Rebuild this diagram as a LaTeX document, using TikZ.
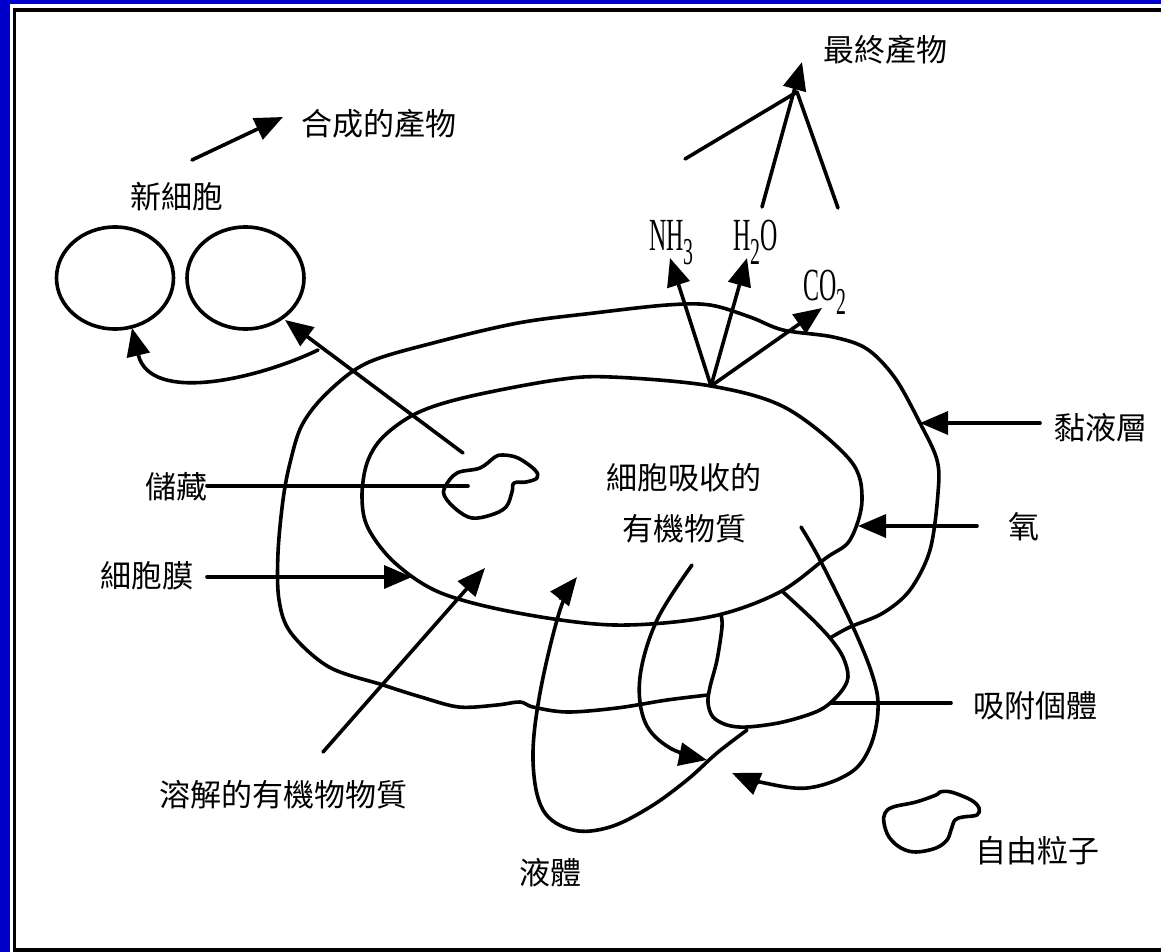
\documentclass[tikz,border=0pt]{standalone}
\usepackage{fontspec}
\setmainfont{Liberation Serif}
\newfontfamily\cjk{Noto Sans CJK TC}
\usetikzlibrary{arrows.meta}
\definecolor{framebl}{RGB}{0,0,204}
% condensed chemical formula with a lowered index
\newcommand\lowidx[1]{\raisebox{-14pt}{\fontsize{38}{38}\selectfont #1}}
\newcommand\chemtxt[1]{\scalebox{0.52}[1]{\fontsize{46}{46}\selectfont #1}}

\begin{document}
\begin{tikzpicture}[x=1pt,y=-1pt,
  line/.style={line width=3.6pt, line join=round, line cap=round},
  arr/.style={line, -{Triangle[length=28pt,width=23pt]}},
  lbl/.style={font=\cjk\fontsize{31}{36}\selectfont, inner sep=0pt},
  chem/.style={inner sep=0pt, anchor=base west}]
\useasboundingbox (0,0) rectangle (1161,952);
% frame
\fill[framebl] (0,0) rectangle (1161,952);
\fill[white] (10,4) rectangle (1161,952);
\begin{scope}
  \clip (0,0) rectangle (1161,952);
  \draw[line width=3.5pt] (14.5,10) rectangle (1175,950);
\end{scope}

% labels
\node[lbl] (synth)    at (379,124) {合成的產物};
\node[lbl] (newcell)  at (177,197) {新細胞};
\node[lbl] (final)    at (885,50)  {最終產物};
\node[lbl] (mucus)    at (1101,428) {黏液層};
\node[lbl] (oxy)      at (1024,527) {氧};
\node[lbl] (store)    at (176,487) {儲藏};
\node[lbl] (memb)     at (147,576) {細胞膜};
\node[lbl] (absorbA)  at (684,478) {細胞吸收的};
\node[lbl] (absorbB)  at (684,529) {有機物質};
\node[lbl] (dissolved) at (283,795) {溶解的有機物物質};
\node[lbl] (liquid)   at (550,873) {液體};
\node[lbl] (attached) at (1035,706) {吸附個體};
\node[lbl] (free)     at (1037,851) {自由粒子};
\node[chem] (nh3) at (649,250) {\chemtxt{NH\lowidx{3}}};
\node[chem] (h2o) at (733,250) {\chemtxt{H\lowidx{2}O}};
\node[chem] (co2) at (803,300) {\chemtxt{CO\lowidx{2}}};

% new cells
\draw[line] (115,278) ellipse [x radius=58.5, y radius=51];
\draw[line] (245.5,278) ellipse [x radius=58.5, y radius=51];

% cell membrane
\draw[line] plot[smooth cycle, tension=0.55] coordinates {
  (362,497) (367,463) (383,437) (417,413) (467,397) (556,380) (611,377)
  (711,386) (786,408) (850,460) (862,500) (850,540) (826,558) (778,593)
  (709,617) (614,625) (518,613) (441,593) (395,563) (368,528)};

% mucus layer
\draw[line] plot[smooth, tension=0.55] coordinates {
  (708,695) (667,700) (617,708) (567,712) (533,707) (520,702) (497,705)
  (459,707) (421,697) (383,685) (329,667) (291,633) (279,600) (278,553)
  (283,500) (290,463) (302,425) (327,393) (367,363) (433,343) (518,323)
  (594,313) (667,305) (710,305) (750,317) (783,330) (833,337) (867,349)
  (895,378) (920,423) (937,460) (938,493) (930,550) (910,590) (883,613)
  (850,627) (830,638)};

% attached particle
\draw[line] plot[smooth, tension=0.55] coordinates {
  (721,615) (722,627) (717,660) (710,687) (708,703) (713,717) (727,725)
  (747,727) (783,722) (820,710) (840,693) (848,677) (843,657) (830,638)
  (810,617) (783,592)};

% storage granule
\draw[line] plot[smooth cycle, tension=0.6] coordinates {
  (445,487) (457,473) (480,468) (495,457) (503,455) (518,458) (535,470)
  (537,478) (526,482) (514,483) (512,492) (506,507) (491,515) (472,518)
  (457,510) (445,497)};

% free particle
\draw[line] plot[smooth cycle, tension=0.6] coordinates {
  (885,813) (893,807) (916,802) (936,795) (940,792) (951,792) (971,800)
  (979,808) (977,815) (963,817) (955,820) (951,830) (947,840) (936,848)
  (916,852) (901,848) (889,837) (884,823)};

% end points of the connectors
\coordinate (synthA) at (192,160);
\coordinate (synthB) at (283,117);
\coordinate (apex)   at (711,386);
\coordinate (nhTip)  at (670,258);
\coordinate (hoTip)  at (747,258);
\coordinate (coTip)  at (822,308);
\coordinate (fpL)    at (685,159);
\coordinate (fpM)    at (762,207);
\coordinate (fpR)    at (838,208);
\coordinate (fpJ)    at (797,92);
\coordinate (fpTip)  at (802,62);
\coordinate (grA)    at (463,453);
\coordinate (grB)    at (285,320);
\coordinate (budA)   at (318,350);
\coordinate (budB)   at (132,328);
\coordinate (storeA) at (207,486);
\coordinate (storeB) at (468,486);
\coordinate (membA)  at (207,577);
\coordinate (membB)  at (412,577);
\coordinate (dissA)  at (323,752);
\coordinate (dissB)  at (485,568);
\coordinate (mucA)   at (1040,423);
\coordinate (mucB)   at (920,423);
\coordinate (oxyA)   at (977,526);
\coordinate (oxyB)   at (858,526);
\coordinate (attA)   at (831,703);
\coordinate (attB)   at (951,703);

% connectors
\draw[arr] (synthA) -- (synthB);
\draw[arr] (apex) -- (nhTip);
\draw[arr] (apex) -- (hoTip);
\draw[arr] (apex) -- (coTip);
\draw[line] (fpL) -- (fpJ);
\draw[line] (fpR) -- (fpJ);
\draw[arr] (fpM) -- (fpTip);
\draw[arr] (grA) -- (grB);
\draw[arr] (budA) .. controls (260,378) and (150,405) .. (budB);
\draw[line] (storeA) -- (storeB);
\draw[arr] (membA) -- (membB);
\draw[arr] (dissA) -- (dissB);
\draw[arr] (mucA) -- (mucB);
\draw[arr] (oxyA) -- (oxyB);
\draw[line] (attA) -- (attB);

% liquid flow loops
\draw[arr] plot[smooth, tension=0.6] coordinates {
  (747,730) (717,753) (687,780) (650,807) (610,827) (573,830) (543,810)
  (533,760) (540,693) (560,610) (577,577)};
\draw[arr] plot[smooth, tension=0.6] coordinates {
  (692,565) (657,620) (640,677) (645,722) (670,748) (707,760)};
\draw[arr] plot[smooth, tension=0.6] coordinates {
  (801,527) (820,560) (853,627) (873,677) (878,710) (870,747) (850,773)
  (807,788) (760,782) (732,773)};
\end{tikzpicture}
\end{document}
